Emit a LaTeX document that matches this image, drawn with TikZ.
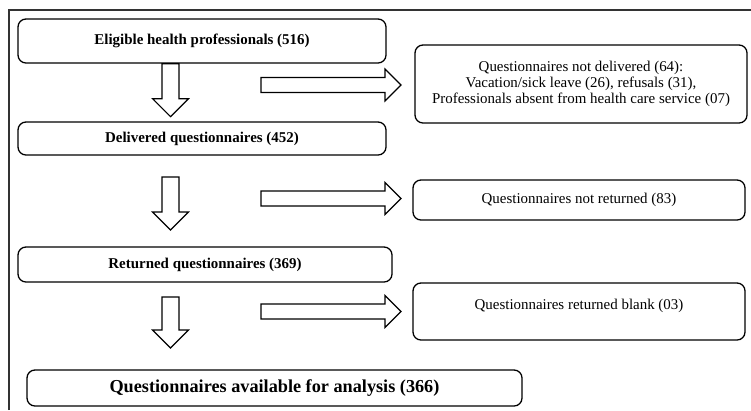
\documentclass[tikz,border=0pt]{standalone}
\usepackage{fontspec}
\setmainfont{Liberation Serif}
\usetikzlibrary{calc}

\tikzset{
    stagebox/.style={draw,line width=1.3pt,rounded corners=8pt,inner sep=2pt,
        font=\bfseries\fontsize{15}{18}\selectfont},
    lossbox/.style={draw,line width=1.3pt,rounded corners=8pt,inner sep=2pt,
        align=center,font=\fontsize{15}{16}\selectfont},
    blockarrow/.style={draw,line width=1.2pt,line join=miter,fill=white},
    pics/downblock/.style={code={
        \draw[blockarrow] (-8.5,0) -- (-8.5,#1) -- (-18,#1) -- (0,#1+18)
            -- (18,#1) -- (8.5,#1) -- (8.5,0) -- cycle;}},
    pics/rightblock/.style={code={
        \draw[blockarrow] (0,-7.5) -- (#1,-7.5) -- (#1,-16) -- (#1+16,0)
            -- (#1,16) -- (#1,7.5) -- (0,7.5) -- cycle;}}
}

\begin{document}
\begin{tikzpicture}[x=1bp,y=-1bp]
    \useasboundingbox (0,0) rectangle (751,410);

    % frame
    \draw[line width=1.4pt,black!80] (9,410) -- (9,10) -- (751,10);

    % main flow
    \node[stagebox,minimum width=368bp,minimum height=44bp] (elig) at (202,41)
        {\raisebox{3bp}{Eligible health professionals (516)}};
    \node[stagebox,minimum width=368bp,minimum height=33bp] (deliv) at (202,138.5)
        {Delivered questionnaires (452)};
    \node[stagebox,minimum width=374bp,minimum height=35bp] (ret) at (205,264.5)
        {Returned questionnaires (369)};
    \node[stagebox,minimum width=495bp,minimum height=36bp,
        font=\bfseries\fontsize{18.3}{22}\selectfont] (avail) at (274.5,388)
        {Questionnaires available for analysis (366)};

    % losses
    \node[lossbox,minimum width=332bp,minimum height=78bp] (notdel) at (581,84)
        {Questionnaires not delivered (64):\\
         Vacation/sick leave (26), refusals (31),\\
         Professionals absent from health care service (07)};
    \node[lossbox,minimum width=332bp,minimum height=40bp] (notret) at (579,200)
        {Questionnaires not returned (83)};
    \node[lossbox,minimum width=332bp,minimum height=57bp] (blank) at (579,311.5)
        {Questionnaires returned blank (03)\\[-2bp]\mbox{}};

    % block arrows
    \pic at ($(elig.south)+(-31.5,0)$) {downblock=35};
    \pic at (170.5,177) {downblock=35};
    \pic at (170.5,297) {downblock=33};

    \pic at (261,85) {rightblock=124};
    \pic at (261,198.5) {rightblock=124};
    \pic at (261,311.5) {rightblock=124};
\end{tikzpicture}
\end{document}
